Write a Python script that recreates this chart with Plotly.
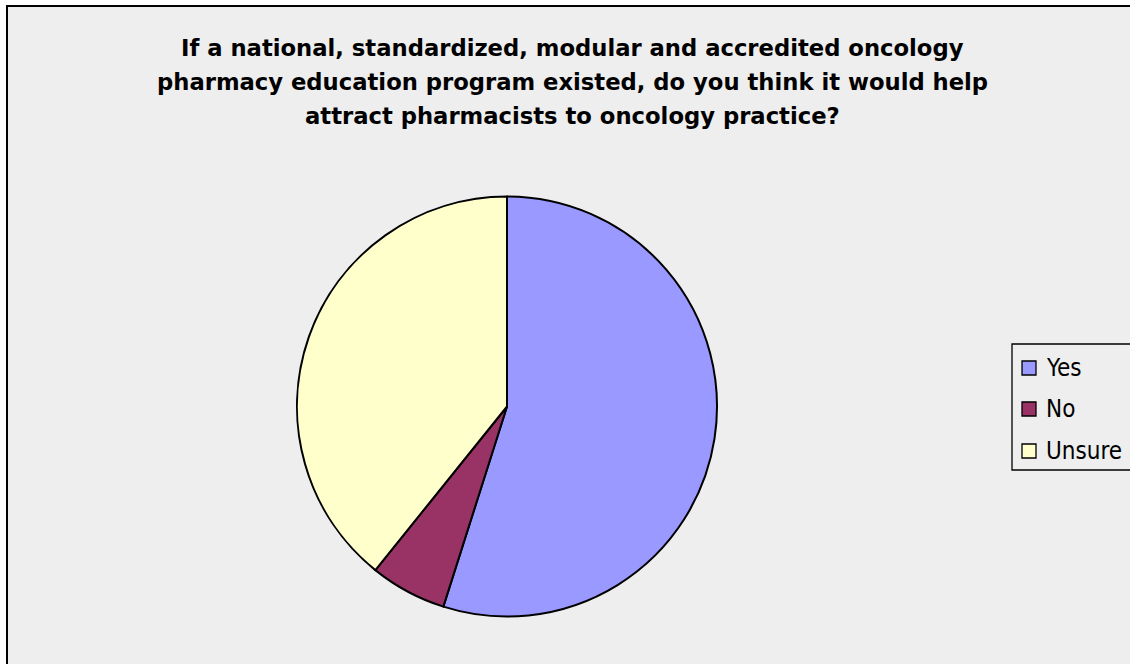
import plotly.graph_objects as go

W, H = 1130, 664

title_lines = [
    "If a national, standardized, modular and accredited oncology",
    "pharmacy education program existed, do you think it would help",
    "attract pharmacists to oncology practice?",
]
labels = ["Yes", "No", "Unsure"]
values = [28, 3, 20]
colors = ["#9999FF", "#993366", "#FFFFCC"]


def px(x):
    return x / W


def py(y):
    return 1 - y / H


fig = go.Figure()
fig.add_trace(go.Pie(
    labels=labels,
    values=values,
    sort=False,
    direction="clockwise",
    rotation=0,
    marker=dict(colors=colors, line=dict(color="black", width=2)),
    textinfo="none",
    hoverinfo="label+percent",
    showlegend=False,
    domain=dict(x=[px(297), px(717)], y=[py(617), py(196)]),
))

shapes = [
    dict(type="rect", xref="paper", yref="paper", layer="below",
         x0=px(7), x1=px(1140), y0=py(672), y1=py(6),
         fillcolor="#EEEEEE", line=dict(color="black", width=2)),
    dict(type="rect", xref="paper", yref="paper", layer="above",
         x0=px(1012), x1=px(1140), y0=py(470), y1=py(344),
         fillcolor="rgba(0,0,0,0)", line=dict(color="black", width=1.3)),
]
annotations = []
item_y = [368, 409, 451]
for lab, col, yy in zip(labels, colors, item_y):
    shapes.append(dict(type="rect", xref="paper", yref="paper", layer="above",
                       x0=px(1022), x1=px(1036), y0=py(yy + 7), y1=py(yy - 7),
                       fillcolor=col, line=dict(color="black", width=1.3)))
    annotations.append(dict(text=lab, x=px(1044), y=py(yy), xref="paper", yref="paper",
                            xanchor="left", yanchor="middle", showarrow=False,
                            font=dict(family="DejaVu Sans Condensed, DejaVu Sans", size=24, color="black")))

for line, yy in zip(title_lines, [48, 82, 116]):
    annotations.append(dict(text="<b>" + line + "</b>", x=px(572), y=py(yy), xref="paper", yref="paper",
                            xanchor="center", yanchor="middle", showarrow=False,
                            font=dict(family="DejaVu Sans", size=22.7, color="black")))

fig.update_layout(
    width=W, height=H,
    margin=dict(l=0, r=0, t=0, b=0),
    paper_bgcolor="white",
    plot_bgcolor="white",
    shapes=shapes,
    annotations=annotations,
    showlegend=False,
)

fig.write_html("out.html", config={"displayModeBar": False},
               post_script="document.body.style.margin='0';")
